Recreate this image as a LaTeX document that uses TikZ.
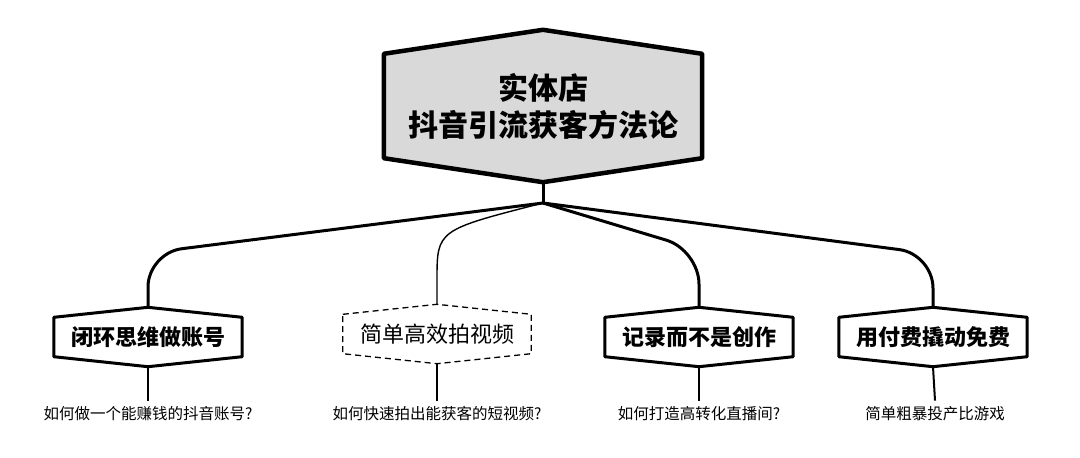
\documentclass[tikz,border=0pt]{standalone}
\usepackage{fontspec}
\newfontfamily\cjk{Noto Sans CJK SC}
\usetikzlibrary{backgrounds,calc}
\newcommand\hexframe[3]{%
  \path[#1] (#2.north west) -- ([yshift=#3]#2.north) -- (#2.north east) -- (#2.south east) -- ([yshift=-#3]#2.south) -- (#2.south west) -- cycle;}
\begin{document}
\begin{tikzpicture}[x=1pt,y=-1pt,
  roottext/.style={font=\cjk\bfseries\fontsize{30}{37}\selectfont, align=center, text=black, minimum width=318pt, minimum height=104pt, inner sep=0pt},
  boxtext/.style={font=\cjk\bfseries\fontsize{22}{26}\selectfont, minimum width=188pt, minimum height=39pt, inner sep=0pt},
  lighttext/.style={boxtext, font=\cjk\fontsize{22}{26}\selectfont},
  subtext/.style={font=\cjk\fontsize{15.5}{18}\selectfont, inner xsep=2pt, inner ysep=6pt},
  hexline/.style={draw=black, line width=3pt, fill=white, line join=round},
  lighthex/.style={draw=black, line width=1.3pt, dash pattern=on 6pt off 4pt, fill=white},
  rootline/.style={draw=black, line width=4.5pt, fill=black!15, line join=round},
  conn/.style={draw=black, line width=3pt, rounded corners=34pt},
  lightconn/.style={draw=black, line width=1.4pt},
  leg/.style={draw=black, line width=2pt},
]
\useasboundingbox (0,0) rectangle (1080,458);

% root
\node[roottext] (r) at (543,106) {实体店\\抖音引流获客方法论};
\coordinate (rb) at ([yshift=-24pt]r.south);
\coordinate (split) at (543,203);

% children
\node[boxtext] (c1) at (148,337) {闭环思维做账号};
\node[lighttext] (c2) at (437,334) {简单高效拍视频};
\node[boxtext] (c3) at (699,337) {记录而不是创作};
\node[boxtext] (c4) at (933,337) {用付费撬动免费};
\foreach \n in {c1,c2,c3,c4}{
  \coordinate (\n t) at ([yshift=10pt]\n.north);
  \coordinate (\n b) at ([yshift=-10pt]\n.south);
}

% subtitles
\node[subtext] (s1) at (148,414) {如何做一个能赚钱的抖音账号?};
\node[subtext] (s2) at (437,414) {如何快速拍出能获客的短视频?};
\node[subtext] (s3) at (699,414) {如何打造高转化直播间?};
\node[subtext] (s4) at (935,414) {简单粗暴投产比游戏};

\begin{scope}[on background layer]
  \fill[white] (0,0) rectangle (1080,458);
  \hexframe{rootline}{r}{24pt}
  \hexframe{hexline}{c1}{10pt}
  \hexframe{lighthex}{c2}{10pt}
  \hexframe{hexline}{c3}{10pt}
  \hexframe{hexline}{c4}{10pt}
  \draw[conn] (rb) -- (split);
  \draw[conn] (split) -- (148,253) -- (c1t);
  \draw[lightconn] (split) .. controls (437,230) .. (437,280) -- (c2t);
  \draw[conn] (split) -- (699,250) -- (c3t);
  \draw[conn] (split) -- (933,254) -- (c4t);
  \draw[leg] (c1b) -- (s1.north);
  \draw[leg, line width=1.4pt] (c2b) -- (s2.north);
  \draw[leg] (c3b) -- (s3.north);
  \draw[leg] (c4b) -- (s4.north);
\end{scope}
\end{tikzpicture}
\end{document}
